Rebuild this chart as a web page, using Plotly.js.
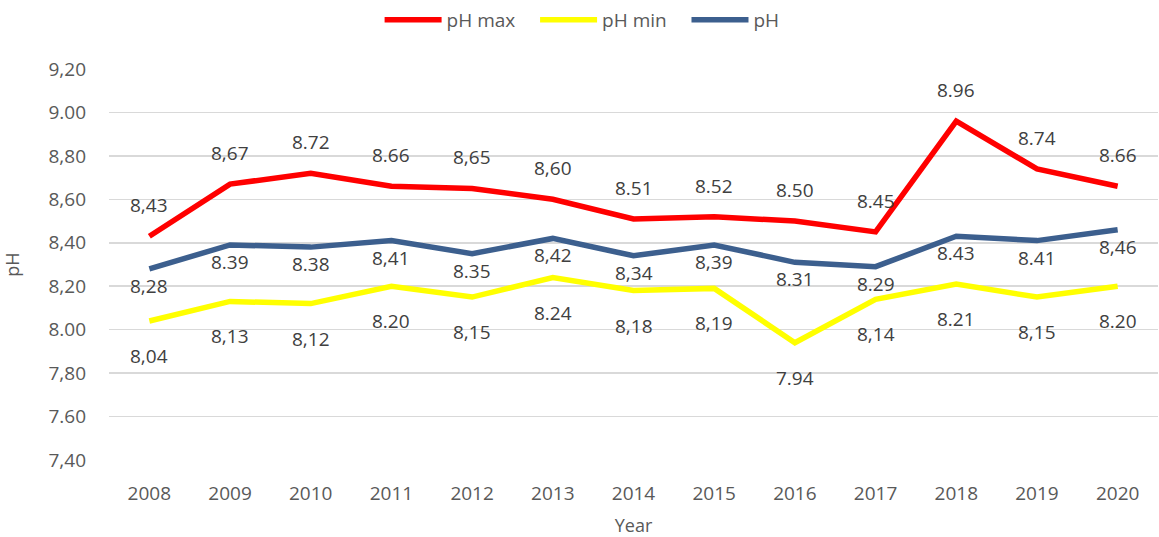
<!DOCTYPE html>
<html>
<head>
<meta charset="utf-8">
<script src="https://cdn.plot.ly/plotly-3.0.1.min.js"></script>
<style>html,body{margin:0;padding:0;background:#fff;}#chart{width:1159px;height:537px;}</style>
</head>
<body>
<div id="chart"></div>
<script>
var years = ['2008','2009','2010','2011','2012','2013','2014','2015','2016','2017','2018','2019','2020'];
var phMax = [8.43, 8.67, 8.72, 8.66, 8.65, 8.60, 8.51, 8.52, 8.50, 8.45, 8.96, 8.74, 8.66];
var phMin = [8.04, 8.13, 8.12, 8.20, 8.15, 8.24, 8.18, 8.19, 7.94, 8.14, 8.21, 8.15, 8.20];
var ph    = [8.28, 8.39, 8.38, 8.41, 8.35, 8.42, 8.34, 8.39, 8.31, 8.29, 8.43, 8.41, 8.46];
var phMaxLabels = ['8,43','8,67','8.72','8.66','8,65','8,60','8.51','8.52','8.50','8.45','8.96','8.74','8.66'];
var phMinLabels = ['8,04','8,13','8,12','8.20','8,15','8.24','8,18','8,19','7.94','8,14','8.21','8,15','8.20'];
var phLabels    = ['8,28','8.39','8.38','8,41','8.35','8,42','8,34','8,39','8.31','8.29','8.43','8.41','8,46'];
var seriesNames = ['pH max', 'pH min', 'pH'];
var yTickVals = [7.4, 7.6, 7.8, 8.0, 8.2, 8.4, 8.6, 8.8, 9.0, 9.2];
var yTickText = ['7,40','7.60','7,80','8.00','8,20','8,40','8,60','8,80','9.00','9,20'];

var FONT = 'Open Sans, sans-serif';
var PAD = '\u00a0\u00a0\u00a0';
var traces = [
  {x: years, y: phMax, name: seriesNames[0] + PAD, type: 'scatter', mode: 'lines', line: {color: '#FF0000', width: 5.5}},
  {x: years, y: phMin, name: seriesNames[1] + PAD, type: 'scatter', mode: 'lines', line: {color: '#FFFF00', width: 5.5}},
  {x: years, y: ph,    name: seriesNames[2],       type: 'scatter', mode: 'lines', line: {color: '#3C5F8E', width: 5.5}}
];

var annotations = [];
function addLabels(vals, labels, shift) {
  for (var i = 0; i < vals.length; i++) {
    annotations.push({x: i, y: vals[i], text: labels[i], showarrow: false, yshift: shift,
      xref: 'x', yref: 'y', font: {family: FONT, size: 19, color: '#404040'}});
  }
}
addLabels(phMax, phMaxLabels, 31);
addLabels(phMin, phMinLabels, -35);
addLabels(ph, phLabels, -17);

var layout = {
  width: 1159, height: 537,
  margin: {l: 109, r: 1, t: 69, b: 77},
  paper_bgcolor: '#fff', plot_bgcolor: '#fff',
  font: {family: FONT, size: 18, color: '#595959'},
  showlegend: true,
  legend: {orientation: 'h', x: 0.451, xanchor: 'center', y: 1.174, yanchor: 'top',
    itemwidth: 57, font: {family: FONT, size: 19, color: '#595959'}, traceorder: 'normal'},
  xaxis: {type: 'category', range: [-0.5, 12.5], showgrid: false, zeroline: false, showline: false,
    ticks: '', ticklabelstandoff: 20, tickfont: {family: FONT, size: 19, color: '#595959'},
    title: {text: 'Year', standoff: 16, font: {family: FONT, size: 18, color: '#595959'}}},
  yaxis: {range: [7.4, 9.2], tickvals: yTickVals, ticktext: yTickText, showgrid: true,
    gridcolor: '#D9D9D9', gridwidth: 1.5, zeroline: false, showline: false, ticks: '',
    ticklabelstandoff: 22, tickfont: {family: FONT, size: 19, color: '#595959'},
    title: {text: 'pH', standoff: 26, font: {family: FONT, size: 18, color: '#595959'}}},
  annotations: annotations
};
Plotly.newPlot('chart', traces, layout, {displayModeBar: false, staticPlot: true});
</script>
</body>
</html>
